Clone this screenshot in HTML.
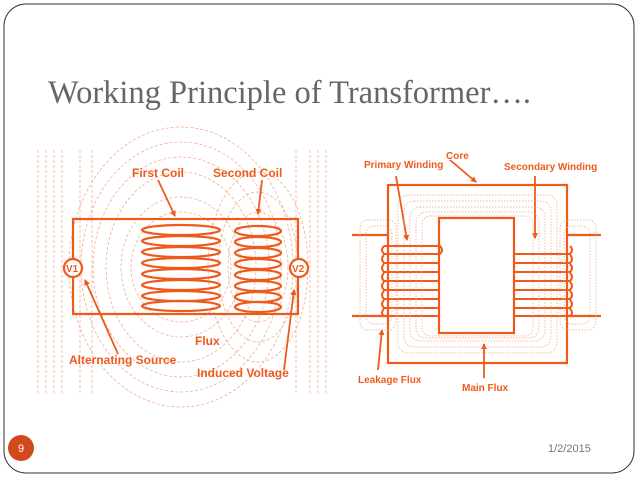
<!DOCTYPE html>
<html><head><style>
body{margin:0;width:638px;height:479px;background:#fff;overflow:hidden;font-family:"Liberation Sans",sans-serif}
</style></head><body>
<svg width="638" height="479" xmlns="http://www.w3.org/2000/svg">
<defs><marker id="a" markerWidth="6" markerHeight="6" refX="5" refY="3" orient="auto" markerUnits="userSpaceOnUse"><path d="M0,0 L6,3 L0,6 z" fill="#ee5a1c"/></marker></defs>
<rect x="4" y="4" width="630" height="469" rx="22" fill="#fff" stroke="#333" stroke-width="1"/>
<text x="48" y="103" font-family="Liberation Serif" font-size="32.5" fill="#666">Working Principle of Transformer….</text>
<g stroke="#f07b45" fill="none" stroke-width="0.7" stroke-dasharray="3,2" opacity="0.7">
<line x1="38" y1="150" x2="38" y2="395"/><line x1="46" y1="150" x2="46" y2="395"/><line x1="54" y1="150" x2="54" y2="395"/><line x1="62" y1="150" x2="62" y2="395"/>
<line x1="310" y1="150" x2="310" y2="395"/><line x1="318" y1="150" x2="318" y2="395"/><line x1="326" y1="150" x2="326" y2="395"/>
<ellipse cx="181" cy="267" rx="50" ry="55"/><ellipse cx="181" cy="267" rx="60" ry="70"/><ellipse cx="181" cy="267" rx="75" ry="95"/><ellipse cx="181" cy="267" rx="88" ry="110"/><ellipse cx="181" cy="267" rx="100" ry="125"/><ellipse cx="181" cy="267" rx="112" ry="140"/>
<ellipse cx="258" cy="267" rx="30" ry="55"/><ellipse cx="258" cy="267" rx="40" ry="75"/><ellipse cx="258" cy="267" rx="50" ry="95"/>
<line x1="80" y1="150" x2="80" y2="395"/><line x1="92" y1="150" x2="92" y2="395"/><line x1="296" y1="150" x2="296" y2="395"/>
</g>
<g stroke="#ee5a1c" fill="none" stroke-width="2.2">
<rect x="73" y="219" width="225" height="95"/>
<circle cx="73" cy="268" r="9" fill="#fff"/><circle cx="299" cy="268" r="9" fill="#fff"/>
<ellipse cx="181" cy="230" rx="39" ry="5"/><ellipse cx="181" cy="241" rx="39" ry="5"/><ellipse cx="181" cy="252" rx="39" ry="5"/><ellipse cx="181" cy="263" rx="39" ry="5"/><ellipse cx="181" cy="274" rx="39" ry="5"/><ellipse cx="181" cy="285" rx="39" ry="5"/><ellipse cx="181" cy="296" rx="39" ry="5"/><ellipse cx="181" cy="306" rx="39" ry="5"/>
<ellipse cx="258" cy="231" rx="23" ry="5"/><ellipse cx="258" cy="242" rx="23" ry="5"/><ellipse cx="258" cy="253" rx="23" ry="5"/><ellipse cx="258" cy="264" rx="23" ry="5"/><ellipse cx="258" cy="275" rx="23" ry="5"/><ellipse cx="258" cy="286" rx="23" ry="5"/><ellipse cx="258" cy="297" rx="23" ry="5"/><ellipse cx="258" cy="307" rx="23" ry="5"/>
<rect x="388" y="185" width="179" height="178"/><rect x="439" y="218" width="75" height="115"/>
<line x1="352" y1="235" x2="388" y2="235"/><line x1="352" y1="316" x2="388" y2="316"/>
<line x1="567" y1="235" x2="601" y2="235"/><line x1="567" y1="316" x2="601" y2="316"/>
</g>
<g stroke="#ee5a1c" fill="none" stroke-width="1.8" marker-end="url(#a)">
<line x1="158" y1="180" x2="175" y2="216"/><line x1="262" y1="180" x2="258" y2="214"/>
<line x1="118" y1="354" x2="85" y2="280"/><line x1="284" y1="370" x2="294" y2="290"/>
<line x1="450" y1="160" x2="476" y2="182"/><line x1="396" y1="176" x2="407" y2="240"/><line x1="535" y1="176" x2="535" y2="238"/>
<line x1="378" y1="370" x2="382" y2="330"/><line x1="484" y1="378" x2="484" y2="344"/>
</g>
<g stroke="#ee5a1c" fill="none" stroke-width="2">
<path d="M384 246 Q380 250 384 254 L440 254 M384 255 Q380 259 384 263 L440 263 M384 264 Q380 268 384 272 L440 272 M384 273 Q380 277 384 281 L440 281 M384 282 Q380 286 384 290 L440 290 M384 291 Q380 295 384 299 L440 299 M384 300 Q380 304 384 308 L440 308 M384 309 Q380 313 384 316 L440 316"/>
<path d="M384 246 L440 246 Q444 250 440 254"/>
<path d="M570 246 Q574 250 570 254 L514 254 M570 255 Q574 259 570 263 L514 263 M570 264 Q574 268 570 272 L514 272 M570 273 Q574 277 570 281 L514 281 M570 282 Q574 286 570 290 L514 290 M570 291 Q574 295 570 299 L514 299 M570 300 Q574 304 570 308 L514 308 M570 309 Q574 313 570 316 L514 316"/>
</g>
<g stroke="#f4a07a" fill="none" stroke-width="0.7" stroke-dasharray="1.5,1.5">
<rect x="398" y="195" width="159" height="158" rx="10"/><rect x="404" y="201" width="147" height="146" rx="10"/><rect x="410" y="207" width="135" height="134" rx="10"/><rect x="416" y="212" width="123" height="126" rx="10"/><rect x="422" y="216" width="111" height="120" rx="8"/>
<rect x="360" y="220" width="36" height="110" rx="8"/><rect x="366" y="226" width="26" height="98" rx="8"/>
<rect x="560" y="220" width="36" height="110" rx="8"/><rect x="564" y="226" width="26" height="98" rx="8"/>
</g>
<g font-size="12" font-weight="bold" fill="#ee5a1c">
<text x="132" y="177">First Coil</text><text x="213" y="177">Second Coil</text>
<text x="195" y="345">Flux</text><text x="69" y="364">Alternating Source</text><text x="197" y="377">Induced Voltage</text>
<text x="66" y="272" font-size="10">V1</text><text x="292" y="272" font-size="10">V2</text>
<text font-size="10" x="446" y="159">Core</text><text font-size="10" x="364" y="168">Primary Winding</text><text font-size="10" x="504" y="170">Secondary Winding</text>
<text font-size="10" x="358" y="383">Leakage Flux</text><text font-size="10" x="462" y="391">Main Flux</text>
</g>
<circle cx="21" cy="448" r="13" fill="#d24a1c"/>
<text x="21" y="452" font-size="11" fill="#fff" text-anchor="middle">9</text>
<text x="548" y="452" font-size="11" fill="#777">1/2/2015</text>
</svg>
</body></html>
